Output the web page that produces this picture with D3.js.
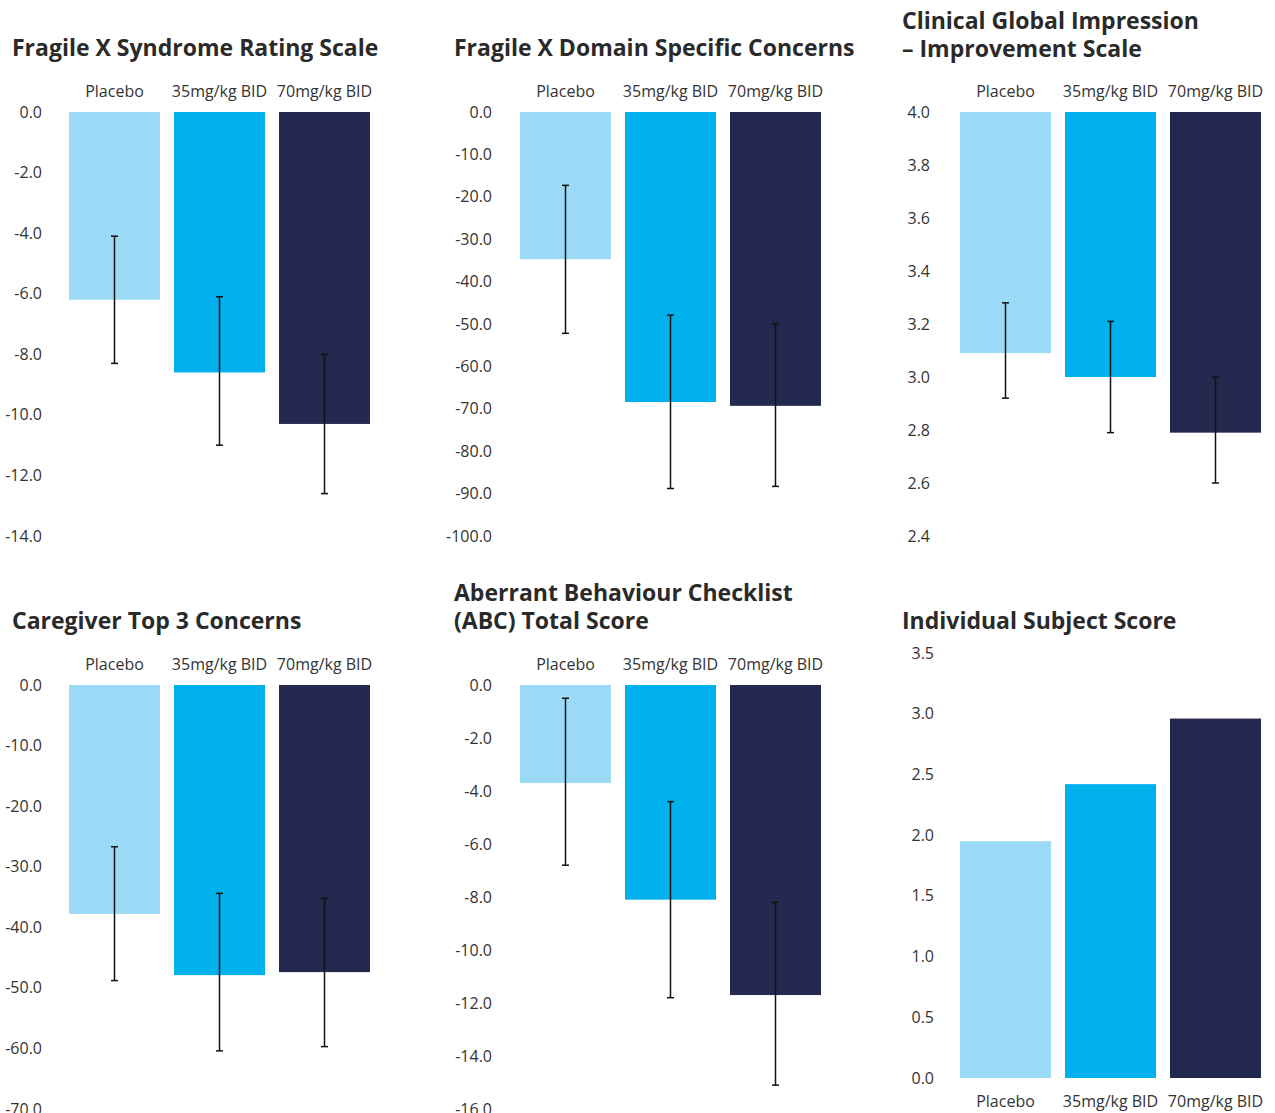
<!DOCTYPE html>
<html>
<head>
<meta charset="utf-8">
<script src="https://cdn.jsdelivr.net/npm/d3@7"></script>
<style>
  html, body { margin: 0; padding: 0; background: #ffffff; }
  svg { display: block; }
  text { font-family: "Open Sans", "Noto Sans", sans-serif; }
</style>
</head>
<body>
<svg id="chart" width="1275" height="1113"></svg>
<script>
// ---------- data ----------
const categories = ["Placebo", "35mg/kg BID", "70mg/kg BID"];
const barColors = ["#9bdbf7", "#00b1ee", "#24294f"];

// Fragile X Syndrome Rating Scale
const fxsrsValues = [-6.2, -8.6, -10.3];
const fxsrsErrUpper = [-4.1, -6.1, -8.0];
const fxsrsErrLower = [-8.3, -11.0, -12.6];
const fxsrsTicks = [0, -2, -4, -6, -8, -10, -12, -14];

// Fragile X Domain Specific Concerns
const fxdscValues = [-34.7, -68.4, -69.3];
const fxdscErrUpper = [-17.3, -47.9, -49.9];
const fxdscErrLower = [-52.2, -88.8, -88.3];
const fxdscTicks = [0, -10, -20, -30, -40, -50, -60, -70, -80, -90, -100];

// Clinical Global Impression – Improvement Scale
const cgiValues = [3.09, 3.00, 2.79];
const cgiErrUpper = [3.28, 3.21, 3.00];
const cgiErrLower = [2.92, 2.79, 2.60];
const cgiTicks = [4.0, 3.8, 3.6, 3.4, 3.2, 3.0, 2.8, 2.6, 2.4];

// Caregiver Top 3 Concerns
const caregiverValues = [-37.8, -47.9, -47.4];
const caregiverErrUpper = [-26.7, -34.4, -35.2];
const caregiverErrLower = [-48.8, -60.4, -59.7];
const caregiverTicks = [0, -10, -20, -30, -40, -50, -60, -70];

// Aberrant Behaviour Checklist (ABC) Total Score
const abcValues = [-3.7, -8.1, -11.7];
const abcErrUpper = [-0.5, -4.4, -8.2];
const abcErrLower = [-6.8, -11.8, -15.1];
const abcTicks = [0, -2, -4, -6, -8, -10, -12, -14, -16];

// Individual Subject Score
const issValues = [1.95, 2.42, 2.96];
const issTicks = [0, 0.5, 1.0, 1.5, 2.0, 2.5, 3.0, 3.5];

// ---------- drawing ----------
const svg = d3.select("#chart");
const fmt = v => d3.format(".1f")(v).replace("\u2212", "-");

const panels = [
  { title: ["Fragile X Syndrome Rating Scale"], titleX: 12, titleY: 48,
    values: fxsrsValues, up: fxsrsErrUpper, lo: fxsrsErrLower, ticks: fxsrsTicks,
    base: 0, domain: [0, -14], x: [69, 370], axisX: 50, y: [112, 536], labelY: 91 },
  { title: ["Fragile X Domain Specific Concerns"], titleX: 454, titleY: 48,
    values: fxdscValues, up: fxdscErrUpper, lo: fxdscErrLower, ticks: fxdscTicks,
    base: 0, domain: [0, -100], x: [520, 821], axisX: 500, y: [112, 536], labelY: 91 },
  { title: ["Clinical Global Impression", "\u2013 Improvement Scale"], titleX: 902, titleY: 21,
    values: cgiValues, up: cgiErrUpper, lo: cgiErrLower, ticks: cgiTicks,
    base: 4.0, domain: [4.0, 2.4], x: [960, 1261], axisX: 938, y: [112, 536], labelY: 91 },
  { title: ["Caregiver Top 3 Concerns"], titleX: 12, titleY: 621,
    values: caregiverValues, up: caregiverErrUpper, lo: caregiverErrLower, ticks: caregiverTicks,
    base: 0, domain: [0, -70], x: [69, 370], axisX: 50, y: [685, 1109], labelY: 664 },
  { title: ["Aberrant Behaviour Checklist", "(ABC) Total Score"], titleX: 454, titleY: 593,
    values: abcValues, up: abcErrUpper, lo: abcErrLower, ticks: abcTicks,
    base: 0, domain: [0, -16], x: [520, 821], axisX: 500, y: [685, 1109], labelY: 664 },
  { title: ["Individual Subject Score"], titleX: 902, titleY: 621,
    values: issValues, up: null, lo: null, ticks: issTicks,
    base: 0, domain: [0, 3.5], x: [960, 1261], axisX: 942, y: [1078, 653], labelY: 1101 }
];

panels.forEach(p => {
  const g = svg.append("g");
  const x = d3.scaleBand().domain(categories).range(p.x).paddingInner(14 / 105).paddingOuter(0);
  const y = d3.scaleLinear().domain(p.domain).range(p.y);

  // title (one text element, lines as tspans)
  const tt = g.append("text")
    .attr("x", p.titleX).attr("y", p.titleY)
    .attr("font-size", 23).attr("font-weight", 700)
    .attr("fill", "#2a2a2a");
  p.title.forEach((t, i) => {
    tt.append("tspan").attr("x", p.titleX).attr("dy", i === 0 ? "0.35em" : 28).text(t);
  });

  // y axis
  const axis = d3.axisLeft(y).tickValues(p.ticks).tickSize(0).tickPadding(8).tickFormat(fmt);
  const ag = g.append("g").attr("transform", `translate(${p.axisX},0)`).call(axis);
  ag.select(".domain").remove();
  ag.selectAll("text").attr("font-size", 16).attr("fill", "#333333")
    .style("font-family", '"Open Sans", "Noto Sans", sans-serif');

  // bars
  g.selectAll("rect.bar").data(p.values).join("rect")
    .attr("class", "bar")
    .attr("x", (d, i) => x(categories[i]))
    .attr("width", x.bandwidth())
    .attr("y", d => Math.min(y(p.base), y(d)))
    .attr("height", d => Math.abs(y(d) - y(p.base)))
    .attr("fill", (d, i) => barColors[i]);

  // error bars
  if (p.up) {
    const cx = i => x(categories[i]) + x.bandwidth() / 2;
    const eg = g.append("g").attr("stroke", "#111111").attr("stroke-width", 1.5);
    p.values.forEach((d, i) => {
      eg.append("line").attr("x1", cx(i)).attr("x2", cx(i)).attr("y1", y(p.up[i])).attr("y2", y(p.lo[i]));
      eg.append("line").attr("x1", cx(i) - 3.5).attr("x2", cx(i) + 3.5).attr("y1", y(p.up[i])).attr("y2", y(p.up[i]));
      eg.append("line").attr("x1", cx(i) - 3.5).attr("x2", cx(i) + 3.5).attr("y1", y(p.lo[i])).attr("y2", y(p.lo[i]));
    });
  }

  // category labels
  g.selectAll("text.cat").data(categories).join("text")
    .attr("class", "cat")
    .attr("x", d => x(d) + x.bandwidth() / 2)
    .attr("y", p.labelY)
    .attr("dy", "0.35em")
    .attr("text-anchor", "middle")
    .attr("font-size", 16)
    .attr("fill", "#333333")
    .text(d => d);
});
</script>
</body>
</html>
